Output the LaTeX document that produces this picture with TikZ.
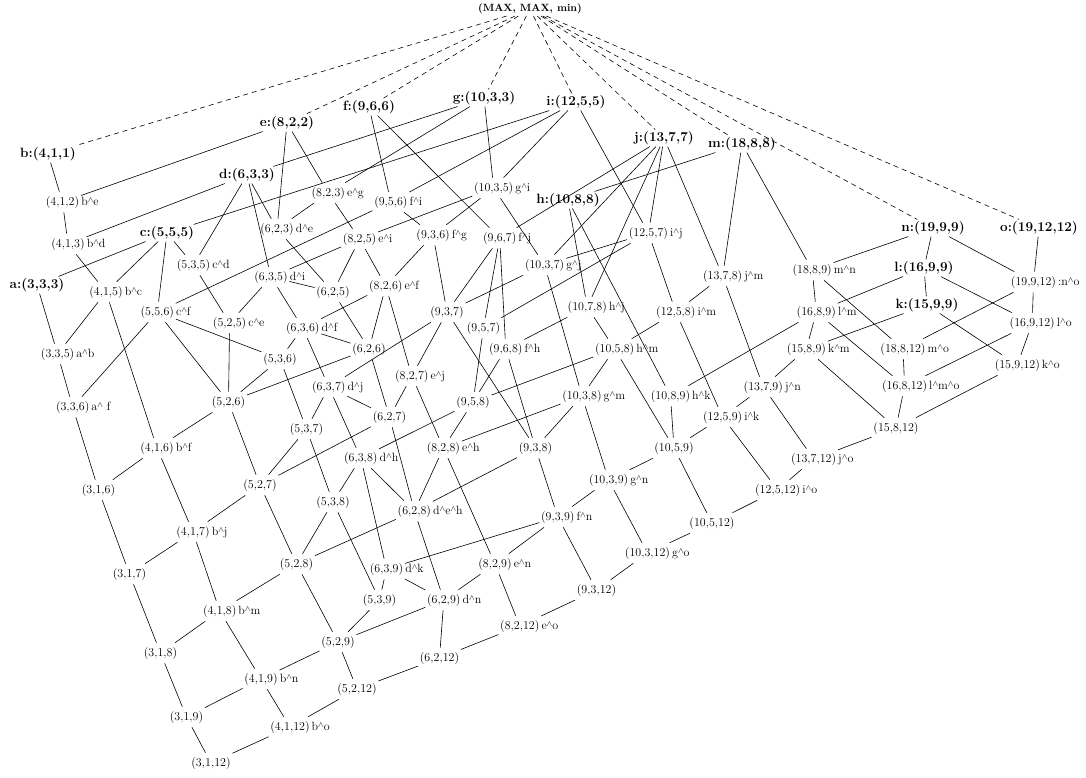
\documentclass[tikz,border=0pt]{standalone}
\usetikzlibrary{positioning}
\newcommand{\mt}{\raisebox{0.45ex}{$\scriptstyle\wedge$}}

\tikzset{
  elt/.style={font=\fontsize{12}{14}\selectfont, text height=9pt, text depth=3pt, inner xsep=1.5pt, inner ysep=4pt},
  gen/.style={font=\fontsize{13.5}{16}\selectfont\bfseries, inner sep=1.5pt},
  lab/.style={font=\fontsize{12}{14}\selectfont, text height=9pt, text depth=3pt, inner sep=0pt},
  ann/.style={elt, label distance=2.5pt, label={[lab]right:{#1}}},
  annc/.style={elt, label distance=-1.5pt, label={[lab]right:{#1}}},
}

\begin{document}
\begin{tikzpicture}[x=1pt, y=-1pt, line width=0.6pt]
    \useasboundingbox (0,0) rectangle (1086,777);
    \node[font=\fontsize{10.5}{12}\selectfont\bfseries, inner sep=1.5pt] (top) at (530,9) {(MAX, MAX, min)};

    \node[gen] (a) at (37,285) {a:(3,3,3)};
    \node[gen] (b) at (48,154) {b:(4,1,1)};
    \node[gen] (c) at (167,233) {c:(5,5,5)};
    \node[gen] (d) at (247,175) {d:(6,3,3)};
    \node[gen] (e) at (287,123) {e:(8,2,2)};
    \node[gen] (f) at (369,107) {f:(9,6,6)};
    \node[gen] (g) at (484,98) {g:(10,3,3)};
    \node[gen] (i) at (576,102) {i:(12,5,5)};
    \node[gen] (j) at (664,138) {j:(13,7,7)};
    \node[gen] (h) at (568,200) {h:(10,8,8)};
    \node[gen] (m) at (742,144) {m:(18,8,8)};
    \node[gen] (n) at (933,228) {n:(19,9,9)};
    \node[gen] (o) at (1039,228) {o:(19,12,12)};
    \node[gen] (l) at (924,268) {l:(16,9,9)};
    \node[gen] (k) at (927,305) {k:(15,9,9)};

    \node[ann=b\mt e] (v4-1-2) at (62.5,202) {(4,1,2)};
    \node[ann=b\mt d] (v4-1-3) at (68,244) {(4,1,3)};
    \node[ann=b\mt c] (v4-1-5) at (106,292) {(4,1,5)};
    \node[ann=a\mt b] (v3-3-5) at (57.6,354) {(3,3,5)};
    \node[ann=a\mt{} f] (v3-3-6) at (72.7,407) {(3,3,6)};
    \node[ann=b\mt f] (v4-1-6) at (157,448) {(4,1,6)};
    \node[elt] (v3-1-6) at (98.5,490) {(3,1,6)};
    \node[ann=b\mt j] (v4-1-7) at (193,532) {(4,1,7)};
    \node[elt] (v3-1-7) at (129.5,574) {(3,1,7)};
    \node[ann=b\mt m] (v4-1-8) at (219.7,611) {(4,1,8)};
    \node[elt] (v3-1-8) at (160.5,653) {(3,1,8)};
    \node[ann=b\mt n] (v4-1-9) at (261,679) {(4,1,9)};
    \node[elt] (v3-1-9) at (186.5,717) {(3,1,9)};
    \node[ann=b\mt o] (v4-1-12) at (290,727) {(4,1,12)};
    \node[elt] (v3-1-12) at (211,763) {(3,1,12)};

    \node[annc=c\mt f] (v5-5-6) at (157.3,312) {(5,5,6)};
    \node[ann=c\mt d] (v5-3-5) at (193.5,265) {(5,3,5)};
    \node[ann=c\mt e] (v5-2-5) at (229.6,323) {(5,2,5)};
    \node[ann=d\mt i] (v6-3-5) at (271,277) {(6,3,5)};
    \node[elt] (v6-2-5) at (333,292) {(6,2,5)};
    \node[ann=d\mt f] (v6-3-6) at (302.8,328) {(6,3,6)};
    \node[elt] (v5-3-6) at (280,359) {(5,3,6)};
    \node[elt] (v6-2-6) at (369,349) {(6,2,6)};
    \node[elt] (v5-2-6) at (228.5,402) {(5,2,6)};
    \node[ann=d\mt j] (v6-3-7) at (328.8,387) {(6,3,7)};
    \node[annc=e\mt j] (v8-2-7) at (411.8,376) {(8,2,7)};
    \node[elt] (v6-2-7) at (389.5,417) {(6,2,7)};
    \node[elt] (v5-3-7) at (306.5,429) {(5,3,7)};
    \node[ann=d\mt h] (v6-3-8) at (360.8,458) {(6,3,8)};
    \node[elt] (v5-2-7) at (260,485) {(5,2,7)};
    \node[elt] (v5-3-8) at (333,502) {(5,3,8)};
    \node[elt] (v5-2-8) at (296.5,564) {(5,2,8)};
    \node[elt] (v5-2-9) at (338,642) {(5,2,9)};
    \node[elt] (v5-3-9) at (379.5,600) {(5,3,9)};
    \node[elt] (v5-2-12) at (357,689) {(5,2,12)};
    \node[ann=d\mt k] (v6-3-9) at (386.5,569) {(6,3,9)};
    \node[ann=d\mt n] (v6-2-9) at (443.8,600) {(6,2,9)};
    \node[elt] (v6-2-12) at (439.5,658) {(6,2,12)};
    \node[ann=e\mt o] (v8-2-12) at (519.8,626) {(8,2,12)};
    \node[ann=e\mt n] (v8-2-9) at (495,564) {(8,2,9)};
    \node[ann=d\mt e\mt h] (v6-2-8) at (414.4,511) {(6,2,8)};
    \node[ann=f\mt n] (v9-3-9) at (557.8,517) {(9,3,9)};
    \node[elt] (v9-3-12) at (596.5,590) {(9,3,12)};
    \node[ann=g\mt o] (v10-3-12) at (647.5,553) {(10,3,12)};
    \node[elt] (v10-5-12) at (712,523) {(10,5,12)};

    \node[ann=e\mt g] (v8-2-3) at (328.3,193) {(8,2,3)};
    \node[ann=d\mt e] (v6-2-3) at (277,229) {(6,2,3)};
    \node[ann=f\mt i] (v9-5-6) at (390.9,202) {(9,5,6)};
    \node[ann=e\mt i] (v8-2-5) at (359.6,239) {(8,2,5)};
    \node[ann=f\mt g] (v9-3-6) at (433.1,235) {(9,3,6)};
    \node[ann=g\mt i] (v10-3-5) at (493.7,188) {(10,3,5)};
    \node[ann=f\mt j] (v9-6-7) at (499.7,238) {(9,6,7)};
    \node[annc=e\mt f] (v8-2-6) at (385.8,286) {(8,2,6)};
    \node[elt] (v9-3-7) at (447,312) {(9,3,7)};
    \node[elt] (v9-5-7) at (483.5,328) {(9,5,7)};
    \node[ann=f\mt h] (v9-6-8) at (505.8,349) {(9,6,8)};
    \node[elt] (v9-5-8) at (473,402) {(9,5,8)};
    \node[annc=e\mt h] (v8-2-8) at (443.4,448) {(8,2,8)};
    \node[elt] (v9-3-8) at (535.5,448) {(9,3,8)};
    \node[ann=g\mt j] (v10-3-7) at (544.6,265) {(10,3,7)};
    \node[ann=g\mt m] (v10-3-8) at (582,396) {(10,3,8)};
    \node[ann=h\mt j] (v10-7-8) at (587.3,307) {(10,7,8)};
    \node[ann=h\mt m] (v10-5-8) at (614.7,349) {(10,5,8)};
    \node[ann=g\mt n] (v10-3-9) at (608.6,480) {(10,3,9)};
    \node[elt] (v10-5-9) at (674,448) {(10,5,9)};
    \node[ann=h\mt k] (v10-8-9) at (670.5,396) {(10,8,9)};
    \node[ann=i\mt j] (v12-5-7) at (648.4,233) {(12,5,7)};
    \node[ann=i\mt m] (v12-5-8) at (675.8,312) {(12,5,8)};
    \node[ann=j\mt m] (v13-7-8) at (722.7,276) {(13,7,8)};
    \node[ann=j\mt n] (v13-7-9) at (763.3,387) {(13,7,9)};
    \node[ann=i\mt k] (v12-5-9) at (722.6,417) {(12,5,9)};
    \node[ann=i\mt o] (v12-5-12) at (777.7,490) {(12,5,12)};
    \node[ann=j\mt o] (v13-7-12) at (813.6,459) {(13,7,12)};
    \node[elt] (v15-8-12) at (896,428) {(15,8,12)};

    \node[ann=m\mt n] (v18-8-9) at (812.2,270) {(18,8,9)};
    \node[ann=l\mt m] (v16-8-9) at (816.3,312) {(16,8,9)};
    \node[ann=k\mt m] (v15-8-9) at (806.4,349) {(15,8,9)};
    \node[ann=m\mt o] (v18-8-12) at (903,349) {(18,8,12)};
    \node[ann=l\mt m\mt o] (v16-8-12) at (904.6,386) {(16,8,12)};
    \node[annc={:n\mt o}] (v19-9-12) at (1033.5,282) {(19,9,12)};
    \node[ann=l\mt o] (v16-9-12) at (1032.2,323) {(16,9,12)};
    \node[ann=k\mt o] (v15-9-12) at (1017.3,365) {(15,9,12)};

    \foreach \g in {b,e,f,g,i,j,m,n,o}
      \draw[dash pattern=on 5pt off 4pt] (top) -- (\g);

    \foreach \u/\v in {b/v4-1-2, e/v4-1-2, v4-1-2/v4-1-3, d/v4-1-3, v4-1-3/v4-1-5, c/v4-1-5,
      a/c, c/v5-5-6, c/v5-3-5, d/v5-3-5, d/v6-2-3, d/v6-3-5, e/v6-2-3, e/v8-2-3,
      v6-2-3/v8-2-3, d/g, g/v8-2-3, g/v10-3-5, c/i, i/v9-5-6, i/v10-3-5, i/v12-5-7,
      f/v9-5-6, f/v9-6-7, v5-5-6/v9-5-6, v9-5-6/v9-3-6, v8-2-3/v8-2-5, v8-2-5/v10-3-5,
      v8-2-5/v6-3-5, v8-2-5/v6-2-5, v8-2-5/v8-2-6, v6-2-3/v6-2-5}
      \draw (\u) -- (\v);

    \foreach \u/\v in {a/v3-3-5, v4-1-5/v3-3-5, v4-1-5/v4-1-6, v5-5-6/v3-3-6, v3-3-5/v3-3-6,
      v5-5-6/v5-2-6, v5-5-6/v5-3-6, v5-3-5/v5-2-5, v5-2-5/v6-3-5, v6-3-5/v6-3-6,
      v6-3-5/v6-2-5, v6-2-5/v6-2-6, v8-2-6/v9-3-6, v8-2-6/v6-3-6, v8-2-6/v6-2-6,
      v8-2-6/v8-2-7, v5-2-5/v5-2-6, v6-3-6/v5-3-6, v6-3-6/v6-2-6, v6-3-6/v6-3-7,
      v5-3-6/v5-2-6, v5-2-6/v6-2-6, v5-3-6/v5-3-7, v6-3-7/v9-3-7, v6-3-7/v5-3-7,
      v6-3-7/v6-2-7, v6-2-6/v6-2-7, v8-2-7/v6-2-7, v6-3-7/v6-3-8, v5-2-6/v4-1-6,
      v5-2-6/v5-2-7, v5-3-7/v5-2-7, v5-3-7/v5-3-8, v5-2-7/v6-2-7, v8-2-7/v8-2-8}
      \draw (\u) -- (\v);

    \foreach \u/\v in {v3-3-6/v3-1-6, v3-1-6/v4-1-6, v4-1-6/v4-1-7, v4-1-7/v5-2-7,
      v5-2-7/v5-2-8, v3-1-6/v3-1-7, v3-1-7/v4-1-7, v4-1-7/v4-1-8, v5-2-8/v5-3-8,
      v5-2-8/v6-2-8, v5-3-8/v5-3-9, v3-1-7/v3-1-8, v4-1-8/v5-2-8, v3-1-8/v4-1-8,
      v4-1-8/v4-1-9, v5-2-8/v5-2-9, v5-2-9/v5-3-9, v5-2-9/v6-2-9, v4-1-9/v5-2-9,
      v3-1-8/v3-1-9, v3-1-9/v4-1-9, v4-1-9/v4-1-12, v5-2-9/v5-2-12, v4-1-12/v5-2-12,
      v3-1-9/v3-1-12, v3-1-12/v4-1-12, v5-3-8/v6-3-8}
      \draw (\u) -- (\v);

    \foreach \u/\v in {v10-3-5/v9-3-6, v10-3-5/v10-3-7, v9-6-7/j, v9-6-7/v9-3-7,
      v9-6-7/v9-5-7, v9-6-7/v9-6-8, v9-3-6/v9-3-7, v10-3-7/j, v10-3-7/v12-5-7,
      v10-3-7/v9-3-7, v10-3-7/v10-3-8, v12-5-7/j, v12-5-7/v9-5-7, v12-5-7/v12-5-8,
      h/v10-7-8, h/v10-8-9, h/m, j/v10-7-8, j/v13-7-8, m/v13-7-8, m/v18-8-9,
      v10-7-8/v9-6-8, v10-7-8/v10-5-8, v12-5-8/v13-7-8, v12-5-8/v10-5-8,
      v12-5-8/v12-5-9, v9-3-7/v8-2-7, v9-3-7/v9-3-8, v9-5-7/v9-5-8,
      v9-6-8/v9-5-8, v9-6-8/v9-3-8, v10-5-8/v9-5-8, v10-5-8/v10-3-8,
      v10-5-8/v10-5-9, v10-3-8/v9-3-8, v10-3-8/v8-2-8, v10-3-8/v10-3-9,
      v9-5-8/v8-2-8, v9-5-8/v6-3-8}
      \draw (\u) -- (\v);

    \foreach \u/\v in {v10-8-9/v10-5-9, v10-8-9/v16-8-9, v10-5-9/v12-5-9,
      v10-5-9/v10-3-9, v10-5-9/v10-5-12, v6-3-8/v6-2-8, v6-3-8/v6-3-9,
      v6-2-7/v6-2-8, v8-2-8/v6-2-8, v8-2-8/v8-2-9, v9-3-8/v6-2-8, v9-3-8/v9-3-9,
      v10-3-9/v9-3-9, v10-3-9/v10-3-12, v6-2-8/v6-2-9, v6-3-9/v9-3-9,
      v5-3-9/v6-3-9, v6-3-9/v6-2-9, v8-2-9/v9-3-9, v6-2-9/v8-2-9,
      v8-2-9/v8-2-12, v6-2-9/v6-2-12, v6-2-12/v8-2-12, v8-2-12/v9-3-12,
      v9-3-9/v9-3-12, v9-3-12/v10-3-12, v10-3-12/v10-5-12, v5-2-12/v6-2-12,
      v10-5-12/v12-5-12, v12-5-9/v13-7-9, v12-5-9/v12-5-12, v13-7-8/v13-7-9,
      v13-7-9/v15-8-9, v13-7-9/v13-7-12, v12-5-12/v13-7-12, v13-7-12/v15-8-12}
      \draw (\u) -- (\v);

    \foreach \u/\v in {n/v18-8-9, n/l, n/v19-9-12, o/v19-9-12, v18-8-9/v16-8-9,
      v18-8-9/v18-8-12, l/v16-8-9, l/k, l/v16-9-12, v16-8-9/v15-8-9,
      v16-8-9/v16-8-12, k/v15-8-9, k/v15-9-12, v18-8-12/v19-9-12,
      v18-8-12/v16-8-12, v16-8-12/v16-9-12, v19-9-12/v16-9-12,
      v16-9-12/v15-9-12, v15-8-9/v15-8-12, v16-8-12/v15-8-12, v15-9-12/v15-8-12}
      \draw (\u) -- (\v);
\end{tikzpicture}
\end{document}
